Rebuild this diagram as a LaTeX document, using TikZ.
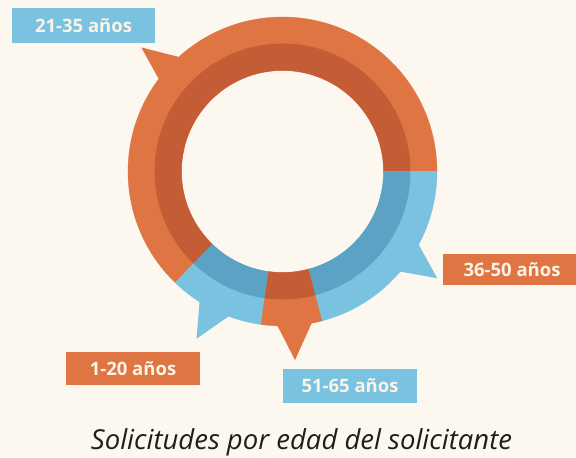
\documentclass[tikz,border=0pt]{standalone}
\usepackage{fontspec}
\setmainfont{Open Sans}
\definecolor{bgcream}{HTML}{FCF7EF}
\definecolor{orangelt}{HTML}{E07544}
\definecolor{orangedk}{HTML}{C45C36}
\definecolor{bluelt}{HTML}{79C3E1}
\definecolor{bluedk}{HTML}{5BA2C4}
\definecolor{labeltext}{HTML}{FBF3E6}
\definecolor{titlegray}{HTML}{1E1E1E}
\tikzset{agebox/.style={minimum height=34pt, inner sep=0pt, text=labeltext, font=\bfseries\fontsize{18.5}{20}\selectfont}}
\begin{document}
\begin{tikzpicture}[x=1pt,y=1pt]
\useasboundingbox (0,0) rectangle (576,458);
\fill[bgcream] (0,0) rectangle (576,458);
\begin{scope}[shift={(282.5,286.5)}]
\fill[orangelt] (138.7:188) -- (131:150) -- (144:150) -- cycle;
\fill[bluelt] (-34.6:188) -- (-41.4:150) -- (-27.1:150) -- cycle;
\fill[bluelt] (242.8:188) -- (236.6:150) -- (250.8:150) -- cycle;
\fill[orangelt] (273.8:189) -- (267.2:150) -- (282.1:150) -- cycle;
\filldraw[orangelt, line width=0.3pt] (0:154.5) arc[start angle=0, end angle=226, radius=154.5] -- (226:101) arc[start angle=226, end angle=0, radius=101] -- cycle;
\filldraw[bluelt, line width=0.3pt] (226:154.5) arc[start angle=226, end angle=262, radius=154.5] -- (262:101) arc[start angle=262, end angle=226, radius=101] -- cycle;
\filldraw[orangelt, line width=0.3pt] (262:154.5) arc[start angle=262, end angle=285, radius=154.5] -- (285:101) arc[start angle=285, end angle=262, radius=101] -- cycle;
\filldraw[bluelt, line width=0.3pt] (285:154.5) arc[start angle=285, end angle=360, radius=154.5] -- (360:101) arc[start angle=360, end angle=285, radius=101] -- cycle;
\fill[orangedk] (0:128) arc[start angle=0, end angle=226, radius=128] -- (226:101) arc[start angle=226, end angle=0, radius=101] -- cycle;
\fill[bluedk] (226:128) arc[start angle=226, end angle=262, radius=128] -- (262:101) arc[start angle=262, end angle=226, radius=101] -- cycle;
\fill[orangedk] (262:128) arc[start angle=262, end angle=285, radius=128] -- (285:101) arc[start angle=285, end angle=262, radius=101] -- cycle;
\fill[bluedk] (285:128) arc[start angle=285, end angle=360, radius=128] -- (360:101) arc[start angle=360, end angle=285, radius=101] -- cycle;
\end{scope}
\node[agebox, fill=bluelt, minimum width=143pt, minimum height=35pt] (box2135) at (83.5,432.5) {21-35 años};
\node[agebox, fill=orangelt, minimum width=138pt, minimum height=31pt] (box3650) at (512,188.5) {36-50 años};
\node[agebox, fill=orangelt, minimum width=134pt, minimum height=33pt] (box0120) at (133,89.5) {1-20 años};
\node[agebox, fill=bluelt, minimum width=134pt] (box5165) at (350,72) {51-65 años};
\node[anchor=base, text=titlegray, font=\itshape\fontsize{27.5}{30}\selectfont] (title) at (301.5,8) {Solicitudes por edad del solicitante};
\end{tikzpicture}
\end{document}
